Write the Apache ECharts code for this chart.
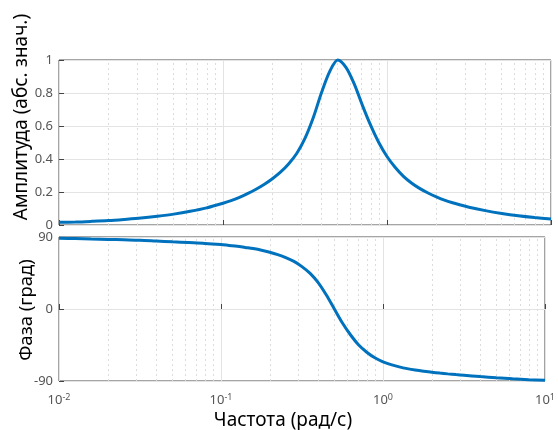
<!DOCTYPE html>
<html>
<head>
<meta charset="utf-8">
<script src="https://cdn.jsdelivr.net/npm/echarts@6/dist/echarts.min.js"></script>
<style>
  html, body { margin: 0; padding: 0; background: #fff; }
  #chart { width: 558px; height: 430px; }
</style>
</head>
<body>
<div id="chart"></div>
<script>
// частота (рад/с)
const freq = [0.01, 0.0126, 0.0158, 0.02, 0.0251, 0.0316, 0.0398, 0.0501, 0.0631, 0.0794,
  0.1, 0.112, 0.126, 0.141, 0.158, 0.178, 0.2, 0.224, 0.251, 0.282,
  0.316, 0.355, 0.398, 0.447, 0.501, 0.562, 0.631, 0.708, 0.794, 0.891,
  1.0, 1.12, 1.26, 1.41, 1.58, 1.78, 2.0, 2.24, 2.51, 2.82,
  3.16, 3.98, 5.01, 6.31, 7.94, 10]
// амплитуда (абс. знач.)
const amp = [0.016, 0.018, 0.022, 0.027, 0.034, 0.042, 0.053, 0.066, 0.083, 0.104,
  0.132, 0.148, 0.168, 0.19, 0.215, 0.245, 0.28, 0.32, 0.37, 0.435,
  0.525, 0.65, 0.80, 0.93, 1.0, 0.955, 0.855, 0.725, 0.605, 0.50,
  0.415, 0.35, 0.295, 0.255, 0.222, 0.194, 0.171, 0.151, 0.135, 0.121,
  0.108, 0.087, 0.07, 0.056, 0.045, 0.036]
// фаза (град)
const phase = [88.5, 88, 87.5, 87, 86.5, 86, 85, 84, 83, 82,
  80.5, 79.5, 78.5, 77, 75.5, 73.5, 71, 68, 64.3, 59.5,
  53, 44.5, 33, 17.5, 0, -17.5, -32.5, -45, -54, -61,
  -66, -69.5, -72.3, -74.5, -76.3, -77.8, -79, -80.1, -81.1, -82,
  -82.8, -84.5, -86, -87.3, -88.3, -89]
// второстепенные линии сетки
const minorX = [0.02, 0.03, 0.04, 0.05, 0.06, 0.07, 0.08, 0.09,
  0.2, 0.3, 0.4, 0.5, 0.6, 0.7, 0.8, 0.9,
  2, 3, 4, 5, 6, 7, 8, 9]

const font = 'Noto Sans'
const lineColor = '#0072bd'
const gridColor = '#e3e3e3'
const labelColor = '#555'

// отдельная пустая серия, чтобы пунктир сетки был под кривой
const minorSeries = idx => ({
  type: 'line',
  xAxisIndex: idx,
  yAxisIndex: idx,
  data: [],
  z: 1,
  markLine: {
    silent: true,
    symbol: 'none',
    label: { show: false },
    lineStyle: { color: '#dcdcdc', type: [2, 3], width: 1 },
    data: minorX.map(v => ({ xAxis: v })),
  },
})

const logAxis = (gridIndex, showLabel) => ({
  type: 'log',
  logBase: 10,
  gridIndex,
  min: 0.01,
  max: 10,
  axisLine: { show: false },
  axisTick: { show: true, inside: true, length: 5, lineStyle: { color: '#444' } },
  splitLine: { show: true, lineStyle: { color: gridColor } },
  axisLabel: {
    show: showLabel,
    margin: 12,
    color: labelColor,
    fontFamily: font,
    fontSize: 13,
    formatter: v => '10{sup|' + Math.round(Math.log10(v)) + '}',
    rich: {
      sup: { fontSize: 9, verticalAlign: 'top', color: labelColor, fontFamily: font, padding: [0, 0, 6, 0] },
    },
  },
})

const valueAxis = (gridIndex, min, max, interval) => ({
  type: 'value',
  gridIndex,
  min,
  max,
  interval,
  axisLine: { show: false },
  axisTick: { show: true, inside: true, length: 5, lineStyle: { color: '#444' } },
  splitLine: { lineStyle: { color: gridColor } },
  axisLabel: { color: labelColor, fontFamily: font, fontSize: 13, margin: 6 },
})

const chart = echarts.init(document.getElementById('chart'))

chart.setOption({
  backgroundColor: '#fff',
  animation: false,
  grid: [
    { left: 59, right: 7, top: 60, height: 165, show: true, borderColor: '#4a4a4a', borderWidth: 1 },
    { left: 59, right: 7, top: 237, height: 144, show: true, borderColor: '#4a4a4a', borderWidth: 1 },
  ],
  xAxis: [logAxis(0, false), logAxis(1, true)],
  yAxis: [valueAxis(0, 0, 1, 0.2), valueAxis(1, -90, 90, 90)],
  graphic: [
    {
      type: 'text', x: 22, y: 117, rotation: Math.PI / 2,
      style: { text: 'Амплитуда (абс. знач.)', fontFamily: font, fontSize: 19, fill: '#000', align: 'center', verticalAlign: 'middle' },
    },
    {
      type: 'text', x: 27, y: 310, rotation: Math.PI / 2,
      style: { text: 'Фаза (град)', fontFamily: font, fontSize: 18.5, fill: '#000', align: 'center', verticalAlign: 'middle' },
    },
    {
      type: 'text', x: 283, y: 421,
      style: { text: 'Частота (рад/с)', fontFamily: font, fontSize: 19, fill: '#000', align: 'center', verticalAlign: 'middle' },
    },
  ],
  series: [
    minorSeries(0),
    minorSeries(1),
    {
      type: 'line',
      xAxisIndex: 0,
      yAxisIndex: 0,
      z: 5,
      data: freq.map((f, i) => [f, amp[i]]),
      smooth: 0.3,
      showSymbol: false,
      clip: false,
      lineStyle: { color: lineColor, width: 3 },
    },
    {
      type: 'line',
      xAxisIndex: 1,
      yAxisIndex: 1,
      z: 5,
      data: freq.map((f, i) => [f, phase[i]]),
      smooth: 0.3,
      showSymbol: false,
      clip: false,
      lineStyle: { color: lineColor, width: 3 },
    },
  ],
})
</script>
</body>
</html>
